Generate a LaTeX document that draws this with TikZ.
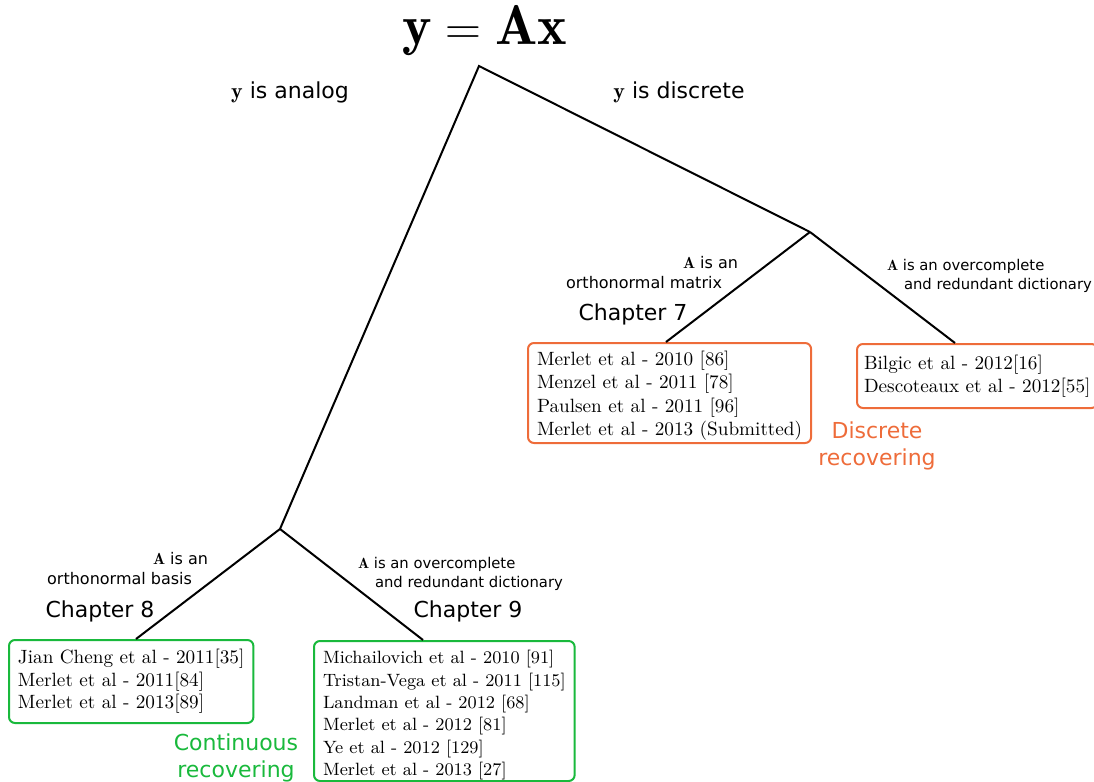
\documentclass[tikz,border=0pt]{standalone}
\usepackage{fontspec}
\newfontfamily\labelfont{DejaVu Sans}
\definecolor{discrete}{RGB}{238,108,58}
\definecolor{continuous}{RGB}{25,185,60}
\begin{document}
\begin{tikzpicture}[x=0.5pt,y=-0.5pt,line width=1pt,
		branchtext/.style={font=\labelfont\fontsize{8}{10}\selectfont,inner sep=0pt},
		dicttext/.style={font=\labelfont\fontsize{7.4}{9.6}\selectfont,inner sep=0pt,align=left,anchor=north west},
		chapter/.style={font=\labelfont\fontsize{11}{13.5}\selectfont,inner sep=0pt},
		refbox/.style={draw,rounded corners=3pt,align=left,anchor=north west,inner xsep=4.5pt,inner ysep=0pt,font=\fontsize{9.6}{11.3}\selectfont}]
	\useasboundingbox (0,0) rectangle (1094,782);
	\node[inner sep=0pt] (eq) at (485,31) {\fontsize{28}{33}\selectfont$\mathbf{y = Ax}$};
	\node[chapter] (analogtxt) at (290,92) {$\mathbf{y}$ is analog};
	\node[chapter] (discretetxt) at (679,92) {$\mathbf{y}$ is discrete};
	\coordinate (top) at (479,66);
	\coordinate (analog) at (280,529);
	\coordinate (discrete) at (810,232);
	\node[refbox,draw=discrete,minimum height=50pt,font=\fontsize{9.6}{11.65}\selectfont] (ch7box) at (527,342) {\rule{0pt}{10pt}Merlet et al - 2010 [86]\\Menzel et al - 2011 [78]\\Paulsen et al - 2011 [96]\\Merlet et al - 2013 (Submitted)};
	\node[refbox,draw=discrete,minimum height=32pt,inner xsep=3.5pt,font=\fontsize{9.6}{11.5}\selectfont] (dictbox) at (856,343) {Bilgic et al - 2012[16]\\Descoteaux et al - 2012[55]};
	\node[chapter,discrete,align=center] (discretename) at (877,446) {Discrete\\recovering};
	\node[refbox,draw=continuous,minimum height=41.5pt] (ch8box) at (8,639) {Jian Cheng et al - 2011[35]\\Merlet et al - 2011[84]\\Merlet et al - 2013[89]};
	\node[refbox,draw=continuous,minimum height=70pt,font=\fontsize{8.9}{11.2}\selectfont] (ch9box) at (313,640) {\rule{0pt}{11pt}Michailovich et al - 2010 [91]\\Tristan-Vega et al - 2011 [115]\\Landman et al - 2012 [68]\\Merlet et al - 2012 [81]\\Ye et al - 2012 [129]\\Merlet et al - 2013 [27]};
	\node[chapter,continuous,align=center] (continuousname) at (236,758) {Continuous\\recovering};
	\node[branchtext,align=right,anchor=south east] (matrixtxt) at (723,290) {$\mathbf{A}$ is an\kern-8pt\\orthonormal matrix};
	\node[dicttext] (dicttxt) at (886,258) {$\mathbf{A}$ is an overcomplete\\\hspace*{8.5pt}and redundant dictionary};
	\node[branchtext,align=right,anchor=south east] (basistxt) at (193,586) {$\mathbf{A}$ is an\kern-8pt\\orthonormal basis};
	\node[dicttext] (overtxt) at (357,556) {$\mathbf{A}$ is an overcomplete\\\hspace*{8.5pt}and redundant dictionary};
	\node[chapter] (ch7) at (633,314) {Chapter 7};
	\node[chapter] (ch8) at (100,611) {Chapter 8};
	\node[chapter] (ch9) at (468,611) {Chapter 9};
	\draw (analog) -- (top) -- (discrete);
	\draw (discrete) -- ([xshift=69.5pt]ch7box.north west);
	\draw (discrete) -- ([xshift=49.5pt]dictbox.north west);
	\draw (analog) -- ([xshift=64pt]ch8box.north west);
	\draw (analog) -- ([xshift=55pt]ch9box.north west);
\end{tikzpicture}
\end{document}
